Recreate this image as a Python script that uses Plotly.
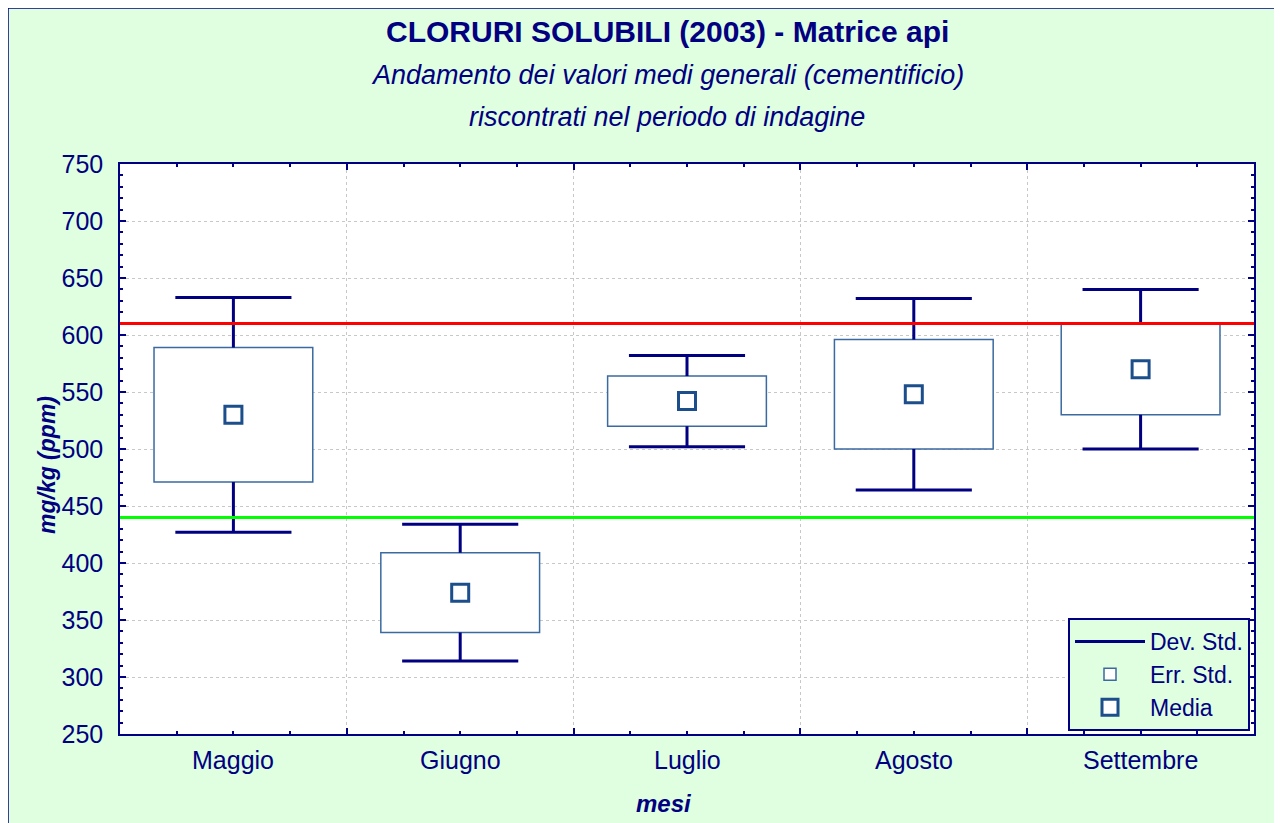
import plotly.graph_objects as go

# ---- data (mg/kg)
mesi = ['Maggio', 'Giugno', 'Luglio', 'Agosto', 'Settembre']
media = [530, 374, 542, 548, 570]
err_std = [59, 35, 22, 48, 40]
dev_std = [103, 60, 40, 84, 70]
limite_sup = 610
limite_inf = 440

NAVY = '#000080'
BOX_LINE = '#3A6AA0'
MEAN_COL = '#1B4E8A'
BG = '#E0FFE0'
FONT = 'Liberation Sans, Arial, sans-serif'

# page geometry (the page body adds an 8 px offset, reference coords are in window px)
OFF = 8
W, H = 1282 - OFF, 823 - OFF
L, R, T, B = 120 - OFF, 28, 164 - OFF, 89
pw, ph = W - L - R, H - T - B


def px_x(p):
    # window pixel -> paper fraction
    return (p - OFF - L) / pw


def px_y(p):
    return (H - B - (p - OFF)) / ph


x = list(range(len(mesi)))
CAP = 0.256  # half width of whisker caps, in category units

# ---- whiskers: stem from box edge to sd, plus caps
wx, wy = [], []
for i, m, se, sd in zip(x, media, err_std, dev_std):
    for sgn in (1, -1):
        wx += [i, i, None, i - CAP, i + CAP, None]
        wy += [m + sgn * se, m + sgn * sd, None, m + sgn * sd, m + sgn * sd, None]

fig = go.Figure()

fig.add_trace(go.Scatter(
    x=wx, y=wy, mode='lines', name='Dev. Std.',
    line=dict(color=NAVY, width=3),
))
fig.add_trace(go.Bar(
    x=x, y=[2 * se for se in err_std], base=[m - se for m, se in zip(media, err_std)],
    width=0.7, name='Err. Std.',
    marker=dict(color='white', line=dict(color=BOX_LINE, width=1.5)),
))
fig.add_trace(go.Scatter(
    x=x, y=media, mode='markers', name='Media',
    marker=dict(symbol='square', size=17, color='white', line=dict(color=MEAN_COL, width=3)),
))

fig.add_hline(y=limite_sup, line=dict(color='#FF0000', width=3))
fig.add_hline(y=limite_inf, line=dict(color='#00FF00', width=3))

# ---- category labels under the axis
for i, m in zip(x, mesi):
    fig.add_annotation(x=i, y=0, xref='x', yref='paper', text=m, showarrow=False,
                       yanchor='middle', yshift=-26, font=dict(size=25, color=NAVY))

# ---- titles
titles = [
    ('<b>CLORURI SOLUBILI (2003) - Matrice api</b>', 32, 30),
    ('<i>Andamento dei valori medi generali (cementificio)</i>', 75, 27),
    ('<i>riscontrati nel periodo di indagine</i>', 117, 27),
]
for txt, yy, sz in titles:
    fig.add_annotation(x=px_x(667), y=px_y(yy), xref='paper', yref='paper', text=txt,
                       showarrow=False, yanchor='middle', font=dict(size=sz, color=NAVY))
fig.add_annotation(x=px_x(664), y=px_y(803), xref='paper', yref='paper', text='<b><i>mesi</i></b>',
                   showarrow=False, yanchor='middle', font=dict(size=24, color=NAVY))
fig.add_annotation(x=px_x(32), y=px_y(465), xref='paper', yref='paper', text='<b><i>mg/kg (ppm)</i></b>',
                   showarrow=False, textangle=-90, font=dict(size=23, color=NAVY))

# ---- page frame
fig.add_shape(type='rect', xref='paper', yref='paper',
              x0=px_x(OFF), x1=px_x(1290), y0=px_y(840), y1=px_y(OFF),
              line=dict(color=NAVY, width=1.5))

fig.update_layout(
    width=W, height=H,
    margin=dict(l=L, r=R, t=T, b=B, pad=0),
    paper_bgcolor=BG, plot_bgcolor='white',
    font=dict(family=FONT, color=NAVY),
    showlegend=True,
    legend=dict(
        x=px_x(1250), y=px_y(731), xanchor='right', yanchor='bottom',
        bgcolor=BG, bordercolor=NAVY, borderwidth=2, itemwidth=70,
        font=dict(size=23, color=NAVY), tracegroupgap=0,
    ),
    xaxis=dict(
        range=[-0.5, len(mesi) - 0.5],
        tickvals=[i - 0.5 for i in range(len(mesi) + 1)],
        showticklabels=False,
        ticks='inside', ticklen=6, tickcolor=NAVY, tickwidth=1.5,
        minor=dict(dtick=0.25, tick0=-0.5, ticks='inside', ticklen=3, tickcolor=NAVY, showgrid=False),
        showgrid=True, gridcolor='#C8C8C8', griddash='dot', gridwidth=1,
        showline=True, linecolor=NAVY, linewidth=1.5, mirror='allticks',
        zeroline=False, fixedrange=True,
    ),
    yaxis=dict(
        range=[250, 750], dtick=50, tick0=250,
        ticks='inside', ticklen=6, tickcolor=NAVY, tickwidth=1.5,
        minor=dict(dtick=10, ticks='inside', ticklen=3, tickcolor=NAVY, showgrid=False),
        showgrid=True, gridcolor='#C8C8C8', griddash='dot', gridwidth=1,
        showline=True, linecolor=NAVY, linewidth=1.5, mirror='allticks',
        tickfont=dict(size=25, color=NAVY), ticklabelstandoff=10,
        zeroline=False, fixedrange=True,
    ),
)

fig.write_html("out.html")
